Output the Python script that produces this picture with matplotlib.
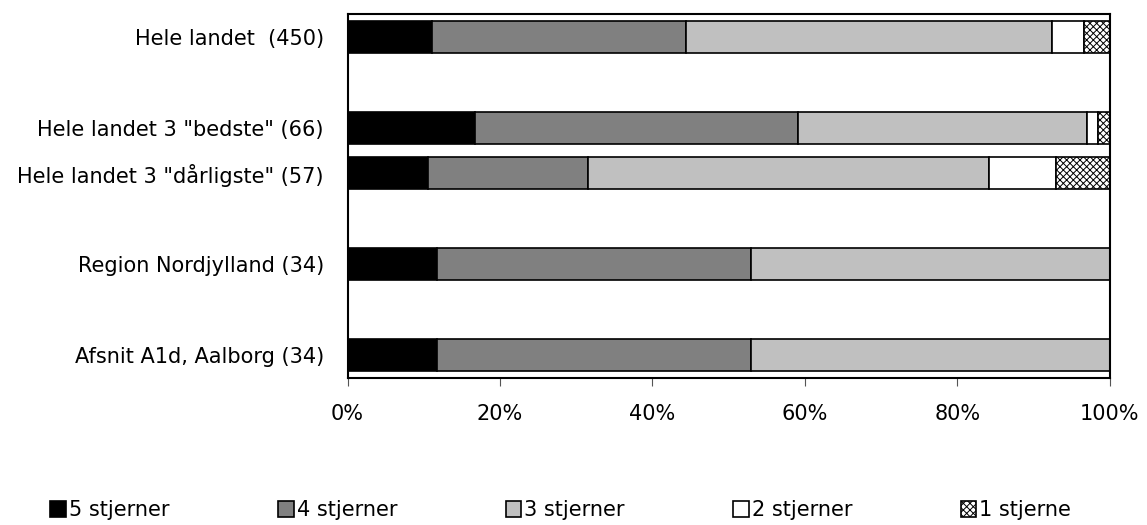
#!/usr/bin/env python3
import numpy as np
import matplotlib.pyplot as plt

# rækker fra top til bund, None = tom plads
labels = ['Hele landet  (450)', None, 'Hele landet 3 "bedste" (66)',
          'Hele landet 3 "dårligste" (57)', None, 'Region Nordjylland (34)',
          None, 'Afsnit A1d, Aalborg (34)']

series = ['5 stjerner', '4 stjerner', '3 stjerner', '2 stjerner', '1 stjerne']
# procent pr. række (kun de rækker med data)
s5 = [11.1, 16.7, 10.5, 11.8, 11.8]
s4 = [33.3, 42.4, 21.1, 41.2, 41.2]
s3 = [48.0, 37.9, 52.6, 47.0, 47.0]
s2 = [4.2, 1.5, 8.8, 0.0, 0.0]
s1 = [3.4, 1.5, 7.0, 0.0, 0.0]

colors = ['#000000', '#808080', '#c0c0c0', '#ffffff', '#ffffff']
hatches = [None, None, None, None, 'xxxxx']

plt.rcParams['font.family'] = 'DejaVu Sans'
plt.rcParams['hatch.linewidth'] = 0.7

fig = plt.figure(figsize=(11.47, 5.25), dpi=100)
ax = fig.add_axes([0.303, 0.28, 0.6645, 0.6933])

rows = [i for i, l in enumerate(labels) if l is not None]
y = np.array(rows)
data = [s5, s4, s3, s2, s1]
left = np.zeros(len(rows))
for i in range(len(series)):
    vals = np.array(data[i])
    ax.barh(y, vals, left=left, height=0.7, color=colors[i],
            edgecolor='black', linewidth=1.2, hatch=hatches[i],
            label=series[i])
    left += vals

ax.set_ylim(7.5, -0.5)
ax.set_xlim(0, 100)
ax.set_yticks(y)
ax.set_yticklabels([labels[i] for i in rows], fontsize=15)
ax.tick_params(axis='y', length=0, pad=17)
ax.set_xticks([0, 20, 40, 60, 80, 100])
ax.set_xticklabels(['0%', '20%', '40%', '60%', '80%', '100%'], fontsize=15)
ax.tick_params(axis='x', length=6, width=0.8, direction='out', pad=13, color='#555555')
for sp in ax.spines.values():
    sp.set_linewidth(1.5)

fig.legend(loc='center', bbox_to_anchor=(0.489, 0.028), ncol=5, frameon=False,
           fontsize=15, handlelength=0.75, handleheight=0.75, handletextpad=0.15,
           columnspacing=5.2)

plt.savefig('out.png', dpi=100)
